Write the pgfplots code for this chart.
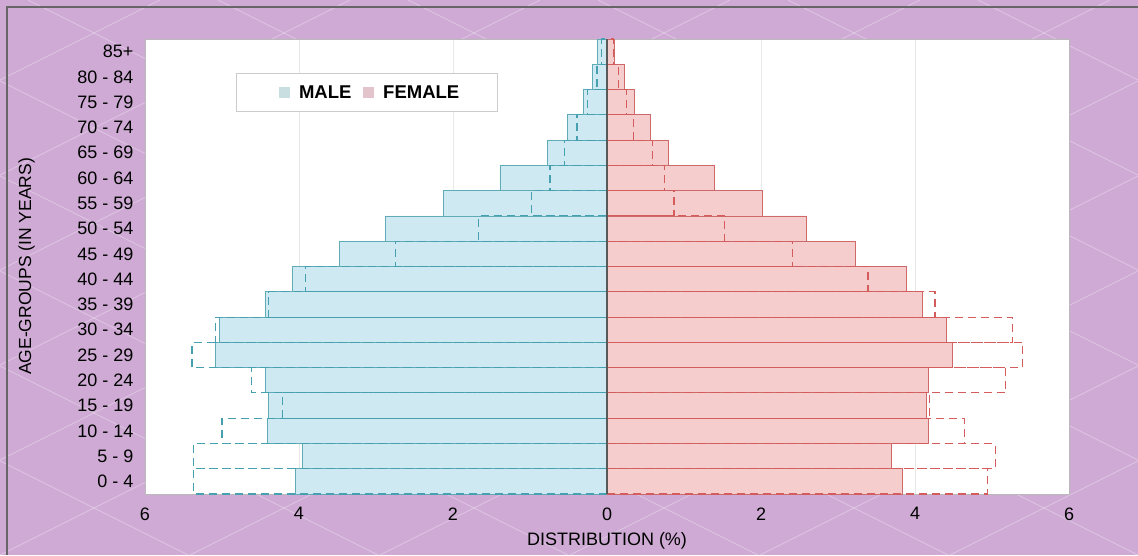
\documentclass[border=0pt]{standalone}
\usepackage{fontspec}
\setmainfont{Liberation Sans}
\usepackage{pgfplots}
\pgfplotsset{compat=1.18}
\usepackage{pgfplotstable}

\definecolor{bgpurple}{RGB}{206,170,212}
\definecolor{malefill}{RGB}{206,233,242}
\definecolor{maleedge}{RGB}{95,172,182}
\definecolor{maledash}{RGB}{70,160,175}
\definecolor{femfill}{RGB}{245,205,205}
\definecolor{femedge}{RGB}{205,105,105}
\definecolor{femdash}{RGB}{212,92,92}
\definecolor{malekey}{RGB}{200,222,224}
\definecolor{femkey}{RGB}{228,196,204}

% age group index (0 = 0-4 ... 17 = 85+), male / female in %
\pgfplotstableread{
idx male female maleold femaleold
0  -4.05 3.83 -5.37 4.94
1  -3.95 3.69 -5.37 5.04
2  -4.41 4.18 -5.00 4.64
3  -4.40 4.15 -4.22 4.19
4  -4.44 4.18 -4.62 5.18
5  -5.08 4.49 -5.39 5.40
6  -5.03 4.41 -5.09 5.27
7  -4.43 4.09 -4.40 4.26
8  -4.09 3.89 -3.92 3.39
9  -3.48 3.23 -2.75 2.41
10 -2.88 2.59 -1.67 1.53
11 -2.12 2.02 -0.98 0.87
12 -1.39 1.39 -0.74 0.75
13 -0.77 0.80 -0.55 0.59
14 -0.51 0.57 -0.39 0.34
15 -0.31 0.35 -0.25 0.25
16 -0.19 0.23 -0.13 0.15
17 -0.12 0.10 -0.07 0.08
}\pyramid

\begin{document}
\begin{tikzpicture}[font=\fontsize{18}{20}\selectfont]
\useasboundingbox (0,0) rectangle (1138pt,555pt);
\fill[bgpurple] (0,0) rectangle (1138pt,555pt);
\begin{scope}
\clip (0,0) rectangle (1138pt,555pt);
\foreach \i in {-6,...,6} {
  \draw[white,opacity=0.28,line width=1pt] (\i*190pt,0) -- ++(1110pt,555pt);
  \draw[white,opacity=0.28,line width=1pt] (\i*190pt+1138pt,0) -- ++(-1110pt,555pt);
}
\end{scope}
\draw[gray!80!black,line width=1.2pt] (7pt,0) -- (7pt,548pt) -- (1138pt,548pt);

\begin{axis}[
  at={(145pt,61pt)}, anchor=south west,
  scale only axis, width=924pt, height=455pt,
  xmin=-6, xmax=6, ymin=-0.5, ymax=17.5,
  axis background/.style={fill=white},
  axis line style={gray!55},
  xtick={-6,-4,-2,0,2,4,6},
  xticklabel={\pgfmathparse{abs(\tick)}\pgfmathprintnumber[assume math mode=true]{\pgfmathresult}},
  ytick={0,...,17},
  yticklabels={0 - 4,5 - 9,10 - 14,15 - 19,20 - 24,25 - 29,30 - 34,35 - 39,40 - 44,45 - 49,50 - 54,55 - 59,60 - 64,65 - 69,70 - 74,75 - 79,80 - 84,85+},
  major tick length=0pt,
  xmajorgrids, grid style={gray!18},
  xlabel={DISTRIBUTION (\%)},
  ylabel={AGE-GROUPS (IN YEARS)},
  xlabel style={at={(axis description cs:0.5,-0.103)}, anchor=center},
  ylabel style={at={(axis description cs:-0.128,0.5)}, anchor=center, font=\fontsize{17.5}{19}\selectfont},
  tick label style={font=\fontsize{18}{20}\selectfont},
  xticklabel style={yshift=-10pt},
  yticklabel style={xshift=-8pt},
  xbar, bar width=1, bar shift=0pt,
  legend columns=2,
  legend cell align=left,
  legend style={at={(0.0985,0.925)}, anchor=north west, draw=gray!40, fill=white,
    font=\bfseries\fontsize{18.5}{20}\selectfont, inner xsep=36pt, inner ysep=10pt,
    /tikz/every odd column/.append style={column sep=7pt},
    /tikz/every even column/.append style={column sep=3pt}},
]
\addplot[fill=malefill, draw=maleedge, line width=0.8pt,
  legend image code/.code={\path (0pt,0pt); \fill[malekey] (7pt,-5pt) rectangle (17pt,5pt);}] table[x=male,y=idx]{\pyramid};
\addlegendentry{MALE}
\addplot[fill=femfill, draw=femedge, line width=0.8pt,
  legend image code/.code={\path (0pt,0pt); \fill[femkey] (7pt,-5pt) rectangle (17pt,5pt);}] table[x=female,y=idx]{\pyramid};
\addlegendentry{FEMALE}
\addplot[forget plot, fill=none, draw=maledash, line width=1.1pt, dash pattern=on 8pt off 5pt] table[x=maleold,y=idx]{\pyramid};
\addplot[forget plot, fill=none, draw=femdash, line width=1.1pt, dash pattern=on 8pt off 5pt] table[x=femaleold,y=idx]{\pyramid};
\draw[gray!70!black, line width=1.2pt] (axis cs:0,-0.5) -- (axis cs:0,17.5);
\end{axis}
\end{tikzpicture}
\end{document}
